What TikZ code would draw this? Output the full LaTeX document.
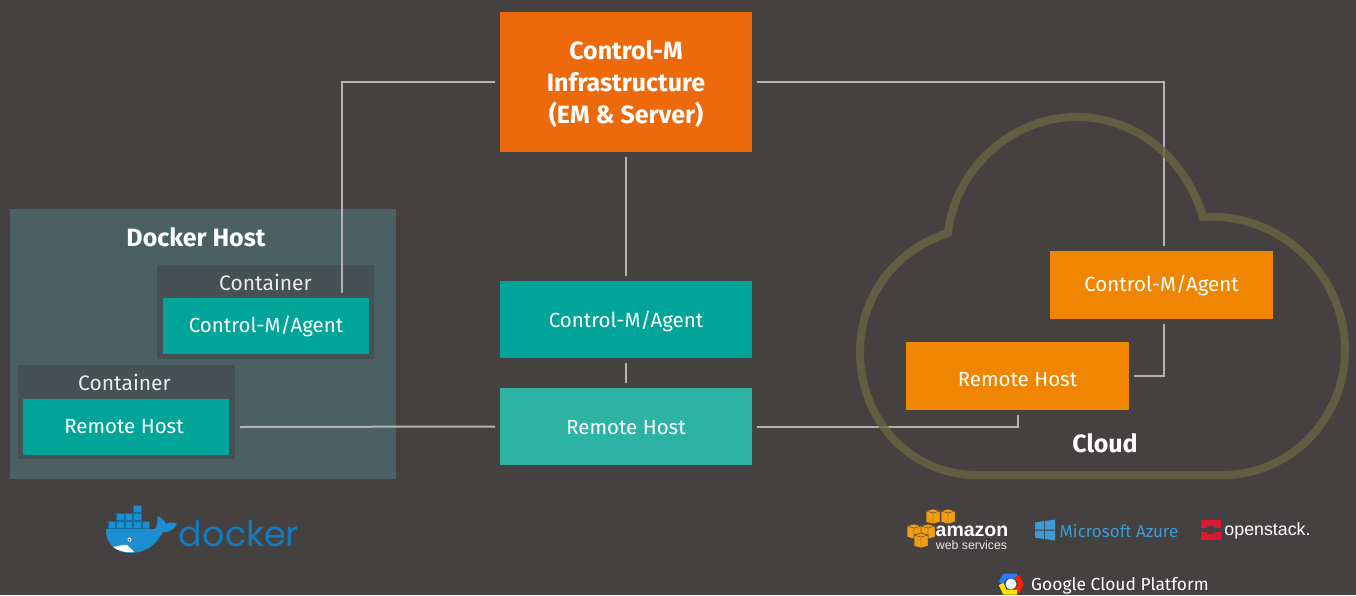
\documentclass[tikz,border=0pt]{standalone}
\usepackage{fontspec}
\setmainfont{Fira Sans}
\newfontfamily\logofont{Poppins}
\newfontfamily\awsfont{Liberation Sans}
\definecolor{bgcol}{HTML}{454140}
\definecolor{infracol}{HTML}{EC6A0B}
\definecolor{tealcol}{HTML}{00A499}
\definecolor{lighttealcol}{HTML}{2DB3A3}
\definecolor{cloudboxcol}{HTML}{EF8500}
\definecolor{hostcol}{HTML}{4A6063}
\definecolor{containercol}{HTML}{465154}
\definecolor{linecol}{HTML}{B4B3B0}
\definecolor{cloudcol}{HTML}{696542}
\definecolor{dockercol}{HTML}{1B8FCF}
\definecolor{dockertextcol}{HTML}{117CBF}
\definecolor{azurecol}{HTML}{3A9BD5}
\definecolor{awscol}{HTML}{F29D11}
\definecolor{stackcol}{HTML}{DA1A32}

\begin{document}
\begin{tikzpicture}[x=1pt, y=-1pt,
	box/.style={shape=rectangle, inner sep=0pt, outer sep=5pt, text=white, align=center, font=\fontsize{20.5}{25}\selectfont},
	infrabox/.style={box, fill=infracol, minimum width=252pt, minimum height=140pt, font=\fontsize{25}{32}\selectfont\bfseries},
	midbox/.style={box, fill=tealcol, minimum width=252pt, minimum height=77pt},
	hostbox/.style={box, fill=tealcol, minimum width=206pt, minimum height=56pt},
	cloudbox/.style={box, fill=cloudboxcol, minimum width=223pt, minimum height=68pt},
	contbox/.style={shape=rectangle, inner sep=0pt, fill=containercol, minimum width=217pt, minimum height=94pt},
	title/.style={text=white, inner sep=0pt, font=\fontsize{25}{28}\selectfont\bfseries},
	contlabel/.style={text=white!92!black, inner sep=0pt, font=\fontsize{21}{25}\selectfont},
	wire/.style={draw=linecol, line width=2pt},
	crate/.style={draw=dockercol!75!black, fill=dockercol, line width=0.6pt},
	cube/.style={fill=awscol, draw=bgcol, line width=0.5pt}]
	\useasboundingbox[fill=bgcol] (0, 0) rectangle (1356, 595);

	\node[shape=rectangle, inner sep=0pt, fill=hostcol, minimum width=386pt, minimum height=270pt] (dockerhost) at (203, 344) {};
	\node[title] (dockertitle) at (196, 237) {Docker Host};
	\node[contbox] (contagent) at (265.5, 312) {};
	\node[contbox] (contremote) at (126.5, 412) {};
	\node[contlabel] (contagentlabel) at (265.5, 282) {Container};
	\node[contlabel] (contremotelabel) at (124.5, 382) {Container};
	\node[hostbox] (hostagent) at (266, 326) {Control-M/Agent};
	\node[hostbox, outer xsep=11pt] (hostremote) at (126, 427) {\hspace*{-4pt}\rule[-2pt]{0pt}{2pt}Remote Host};

	\node[infrabox] (infra) at (626, 82) {\rule{0pt}{22pt}Control-M\\Infrastructure\\(EM \& Server)};
	\node[midbox] (midagent) at (626, 319.5) {\rule{0pt}{20pt}Control-M/Agent};
	\node[midbox, fill=lighttealcol] (midremote) at (626, 426.5) {\rule{0pt}{17pt}Remote Host};

	\node[cloudbox] (cloudagent) at (1161.5, 285) {Control-M/Agent};
	\node[cloudbox] (cloudremote) at (1017.5, 376) {\rule{0pt}{21pt}Remote Host};
	\node[title] (cloudtitle) at (1105, 443) {Cloud};

	\draw[wire] (infra.west) -| ([xshift=75.5pt]hostagent.north);
	\draw[wire] (infra.east) -| ([xshift=2.5pt]cloudagent.north);
	\draw[wire] (infra.south) -- (midagent.north);
	\draw[wire] (midagent.south) -- (midremote.north);
	\draw[wire] (hostremote.east) -- (midremote.west);
	\draw[wire] (midremote.east) -| (cloudremote.south);
	\draw[wire] ([xshift=2.5pt]cloudagent.south) |- (cloudremote.east);

	\draw[draw=cloudcol, line width=8pt, opacity=0.8, miter limit=10] (977, 475) -- (1223, 475)
		.. controls (1290, 475) and (1345, 419) .. (1345, 350)
		.. controls (1345, 275) and (1280, 212) .. (1203, 217)
		.. controls (1185, 157) and (1135, 117) .. (1077, 117)
		.. controls (1010, 117) and (955, 170) .. (948, 233)
		.. controls (895, 250) and (860, 297) .. (860, 352)
		.. controls (860, 420) and (910, 475) .. (977, 475) -- cycle;

	\fill[dockercol] (106, 529) -- (155, 529) .. controls (157, 527) and (157, 522) .. (158, 516)
		.. controls (163, 519) and (165, 522) .. (166, 524) .. controls (169, 522) and (174, 522) .. (177, 524)
		.. controls (174, 530) and (169, 532) .. (163, 532) .. controls (156, 545) and (145, 553) .. (130, 553)
		.. controls (114, 553) and (105, 541) .. (106, 529) -- cycle;
	\fill[white] (113, 547) .. controls (120, 546) and (124, 544) .. (127, 545) .. controls (130, 548) and (133, 550) .. (134, 552) .. controls (127, 553) and (118, 551) .. (113, 547) -- cycle;
	\fill[white] (129.5, 539.5) circle (2);
	\fill[bgcol] (129.5, 539.5) circle (1);
	\foreach \cx in {112, 120.5, 129, 137.5, 146}
		\draw[crate] (\cx-4, 521.5) rectangle +(7.5, 7);
	\foreach \cx in {120.5, 129, 137.5}
		\draw[crate] (\cx-4, 513.5) rectangle +(7.5, 7);
	\draw[crate] (137.5-4, 505.5) rectangle +(7.5, 7);
	\node[text=dockertextcol, inner sep=0pt, font=\logofont\fontsize{35}{40}\selectfont] (dockerlogo) at (239, 534) {docker};

	\foreach \cx/\cy in {933/517, 948/517, 914/532, 928/532, 921/541} {
		\fill[cube] (\cx-7, \cy-6) -- (\cx, \cy-8) -- (\cx+7, \cy-6) -- (\cx+7, \cy+5) -- (\cx, \cy+7) -- (\cx-7, \cy+5) -- cycle;
		\draw[bgcol, line width=0.4pt] (\cx-7, \cy-6) -- (\cx, \cy-4) -- (\cx+7, \cy-6) (\cx, \cy-4) -- (\cx, \cy+7);
	}
	\node[text=white, inner sep=0pt, font=\awsfont\bfseries\fontsize{19.5}{24}\selectfont] (amazon) at (972, 531) {amazon};
	\node[text=white!90!black, inner sep=0pt, font=\awsfont\fontsize{12.3}{15}\selectfont] (webservices) at (971.5, 545) {web services};

	\fill[azurecol] (1035, 522.5) -- (1044, 521) -- (1044, 529.5) -- (1035, 529.5) -- cycle;
	\fill[azurecol] (1045, 521) -- (1055, 519.5) -- (1055, 529.5) -- (1045, 529.5) -- cycle;
	\fill[azurecol] (1035, 530.5) -- (1044, 530.5) -- (1044, 539) -- (1035, 537.5) -- cycle;
	\fill[azurecol] (1045, 530.5) -- (1055, 530.5) -- (1055, 540.5) -- (1045, 539) -- cycle;
	\node[text=azurecol, inner sep=0pt, font=\fontsize{17}{20}\selectfont] (azure) at (1119, 531) {Microsoft Azure};

	\fill[stackcol, even odd rule] (1201, 520) rectangle (1221, 540) (1207, 526) rectangle (1215, 534);
	\fill[bgcol] (1201, 528) rectangle (1207, 532);
	\fill[bgcol] (1215, 528) rectangle (1221, 532);
	\node[text=white, inner sep=0pt, font=\awsfont\fontsize{17.8}{22}\selectfont] (openstack) at (1267.5, 531) {openstack.};

	\fill[white] (1011, 584) circle (5.5);
	\fill[cyan!10!white] (1011, 584) circle (3);
	\draw[line width=5pt, draw=blue!60!cyan!85!white] (1001, 583) -- (1005, 576) -- (1017, 576);
	\draw[line width=5pt, draw=red!75!orange] (1017, 576) -- (1021, 584) -- (1017, 592);
	\draw[line width=5pt, draw=yellow!85!orange] (1001, 584) -- (1005, 592) -- (1017, 592);
	\node[text=white, inner sep=0pt, font=\fontsize{17.4}{22}\selectfont, anchor=west] (google) at (1031, 586) {Google Cloud Platform};
\end{tikzpicture}
\end{document}
